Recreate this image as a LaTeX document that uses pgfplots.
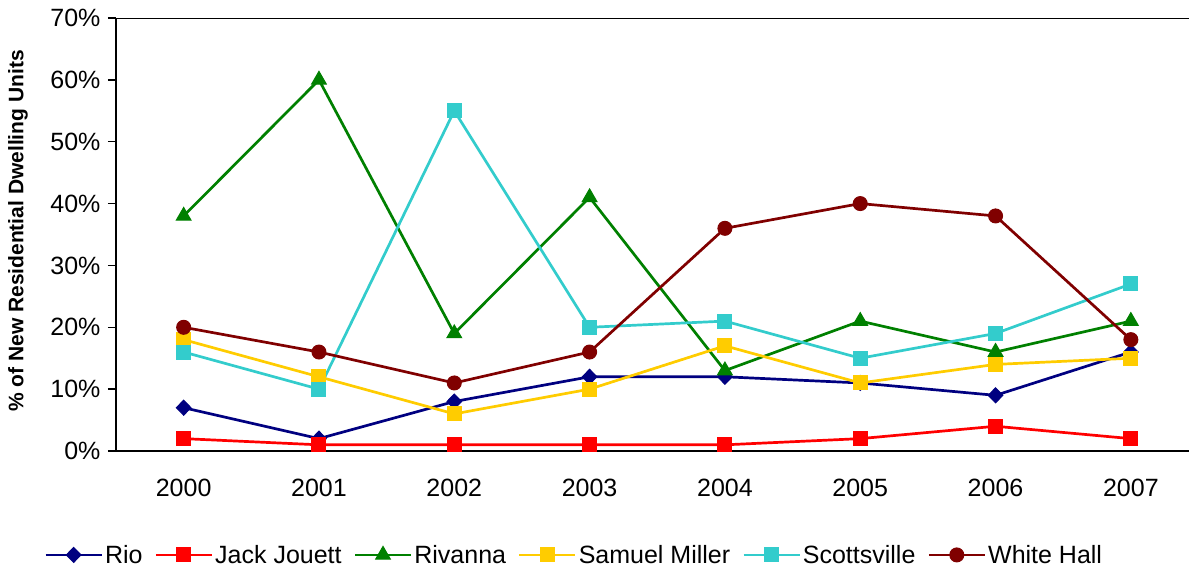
\documentclass[border=0pt]{standalone}
\usepackage{fontspec}
\setmainfont{Liberation Sans}
\usepackage{pgfplots}
\pgfplotsset{compat=1.18}
\definecolor{cRio}{HTML}{000080}
\definecolor{cJJ}{HTML}{FF0000}
\definecolor{cRiv}{HTML}{008000}
\definecolor{cSM}{HTML}{FFCC00}
\definecolor{cSc}{HTML}{33CCCC}
\definecolor{cWH}{HTML}{800000}
\begin{document}
\begin{tikzpicture}
\begin{axis}[
  at={(0,0)}, anchor=south west,
  scale only axis, width=1073pt, height=433pt,
  xmin=-0.5, xmax=7.43, ymin=0, ymax=70,
  axis x line*=bottom, axis y line*=left,
  axis line style={-, line width=2.4pt, black},
  xtick={0,1,2,3,4,5,6,7},
  xticklabels={2000,2001,2002,2003,2004,2005,2006,2007},
  x tick style={draw=none},
  ytick={0,10,20,30,40,50,60,70},
  yticklabels={0\%,10\%,20\%,30\%,40\%,50\%,60\%,70\%},
  y tick style={line width=1.5pt, black},
  tick align=outside, major tick length=8pt,
  ticklabel style={font=\fontsize{25}{30}\selectfont},
  yticklabel style={xshift=-4pt},
  xticklabel style={yshift=-17pt},
  ylabel={\bfseries \% of New Residential Dwelling Units},
  ylabel style={at={(axis description cs:-0.0913,0.508)}, anchor=center, font=\fontsize{21}{25}\selectfont},
  legend style={at={(0.427,-0.24)}, anchor=center, draw=none, legend columns=6,
    font=\fontsize{25}{30}\selectfont,
    /tikz/every even column/.append style={column sep=10pt}},
  legend cell align=left,
  legend image code/.code={\draw[mark repeat=2,mark phase=2] plot coordinates {(0pt,0pt) (28pt,0pt) (56pt,0pt)};},
  every axis plot/.append style={line width=2.7pt},
]
\addplot[color=cRio, mark=diamond*, mark size=7.5pt, mark options={solid, xscale=1.3, line width=1pt}] coordinates {
(0,7) (1,2) (2,8) (3,12) (4,12) (5,11) (6,9) (7,16)};
\addlegendentry{Rio}
\addplot[color=cJJ, mark=square*, mark size=7pt, mark options={solid, line width=1pt}] coordinates {
(0,2) (1,1) (2,1) (3,1) (4,1) (5,2) (6,4) (7,2)};
\addlegendentry{Jack Jouett}
\addplot[color=cRiv, mark=triangle*, mark size=8.5pt, mark options={solid, line width=1pt}] coordinates {
(0,38) (1,60) (2,19) (3,41) (4,13) (5,21) (6,16) (7,21)};
\addlegendentry{Rivanna}
\addplot[color=cSM, mark=square*, mark size=7pt, mark options={solid, line width=1pt}] coordinates {
(0,18) (1,12) (2,6) (3,10) (4,17) (5,11) (6,14) (7,15)};
\addlegendentry{Samuel Miller}
\addplot[color=cSc, mark=square*, mark size=7pt, mark options={solid, line width=1pt}] coordinates {
(0,16) (1,10) (2,55) (3,20) (4,21) (5,15) (6,19) (7,27)};
\addlegendentry{Scottsville}
\addplot[color=cWH, mark=*, mark size=7pt, mark options={solid, line width=1pt}] coordinates {
(0,20) (1,16) (2,11) (3,16) (4,36) (5,40) (6,38) (7,18)};
\addlegendentry{White Hall}
\draw[line width=2.4pt, black] (rel axis cs:0,1) -- (rel axis cs:1,1);
\end{axis}
\pgfresetboundingbox
\path[use as bounding box] (-116pt,-120pt) rectangle (1073pt,451pt);
\end{tikzpicture}
\end{document}
